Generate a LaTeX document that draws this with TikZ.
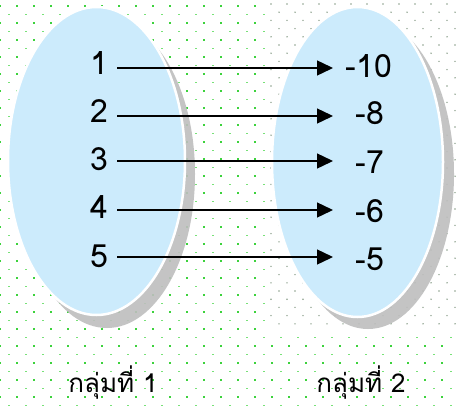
\documentclass[tikz,border=0pt]{standalone}
\usepackage{fontspec}
\setmainfont{Loma}[Script=Thai]
\usetikzlibrary{arrows.meta}
\definecolor{dotgreen}{RGB}{60,210,60}
\definecolor{dashgreen}{RGB}{120,225,120}
\definecolor{dotgrey}{RGB}{140,160,140}
\definecolor{setblue}{RGB}{204,235,252}
\definecolor{shadowgrey}{RGB}{190,190,190}
\tikzset{
  setfill/.style={fill=setblue, draw=white, line width=2.5pt},
  setshadow/.style={fill=shadowgrey, opacity=0.9},
  numlabel/.style={font=\fontsize{32}{36}\selectfont, inner sep=0pt},
  grouplabel/.style={font=\fontsize{26}{28}\selectfont, inner sep=0pt},
  maparrow/.style={line width=1.4pt, -{Triangle[length=16pt,width=15pt]}}
}
\begin{document}
\begin{tikzpicture}[x=1pt,y=-1pt]
\useasboundingbox (0,0) rectangle (457,407);
\fill[white] (0,0) rectangle (457,407);
% background dots
\foreach \j in {0,...,24}{
  \foreach \i in {0,...,27}{
    \pgfmathsetmacro{\xx}{\i*17}
    \pgfmathsetmacro{\yy}{\j*17+5.7}
    \fill[dotgreen] (\xx-1,\yy-1) rectangle ++(2,2);
    \fill[dashgreen] (\xx+7.5,\yy+8) rectangle ++(2,1);
  }
}
% region behind right set
\fill[white] (267,0) rectangle (457,330);
\foreach \j in {0,...,39}{
  \foreach \i in {0,...,11}{
    \pgfmathsetmacro{\xx}{271+\i*16+mod(\j,2)*8}
    \pgfmathsetmacro{\yy}{\j*8.2+4}
    \fill[dotgrey] (\xx,\yy) circle (0.8pt);
  }
}
% shadows
\fill[setshadow] (107,174) ellipse [x radius=88pt, y radius=154pt];
\fill[setshadow] (368,174) ellipse [x radius=86pt, y radius=155pt];
% sets
\filldraw[setfill] (96.5,161) ellipse [x radius=88.5pt, y radius=154pt];
\filldraw[setfill] (357.5,162) ellipse [x radius=85.5pt, y radius=155pt];
% labels
\node[numlabel, anchor=east] (l1) at (108,63) {1};
\node[numlabel, anchor=east] (l2) at (108,111) {2};
\node[numlabel, anchor=east] (l3) at (108,159) {3};
\node[numlabel, anchor=east] (l4) at (108,207) {4};
\node[numlabel, anchor=east] (l5) at (108,256) {5};
\node[numlabel] (r1) at (369,66) {-10};
\node[numlabel] (r2) at (370,113) {-8};
\node[numlabel] (r3) at (370,162) {-7};
\node[numlabel] (r4) at (370,211) {-6};
\node[numlabel] (r5) at (370,259) {-5};
\coordinate (start) at (117,0);
\draw[maparrow] (l1.east -| start) ++(0,5) -- ++(216,0);
\draw[maparrow] (l2.east -| start) ++(0,5) -- ++(216,0);
\draw[maparrow] (l3.east -| start) ++(0,2) -- ++(216,0);
\draw[maparrow] (l4.east -| start) ++(0,3) -- ++(216,0);
\draw[maparrow] (l5.east -| start) ++(0,1) -- ++(216,0);
\node[grouplabel] (g1) at (113,383) {กลุ่มที่ 1};
\node[grouplabel] (g2) at (361,383) {กลุ่มที่ 2};
\end{tikzpicture}
\end{document}
